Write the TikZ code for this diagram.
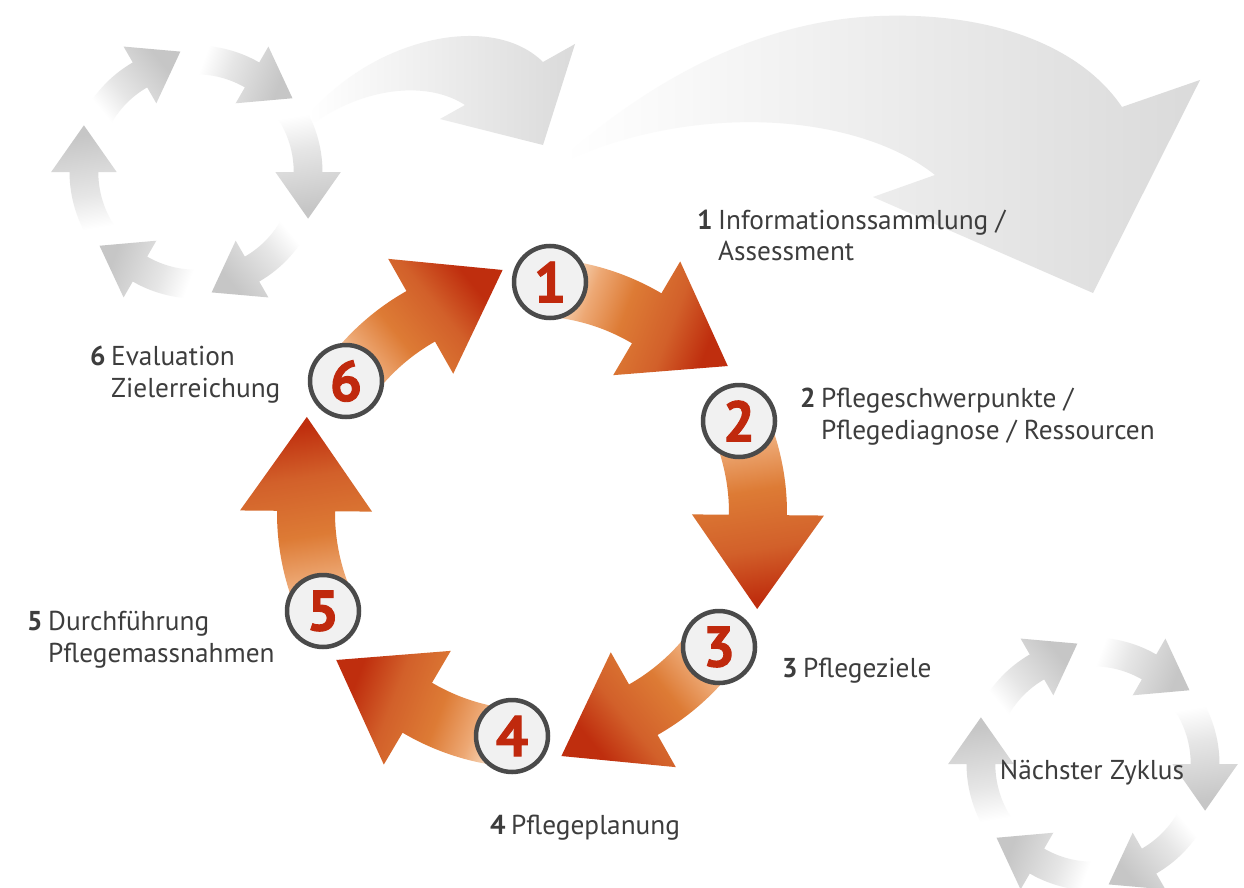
\documentclass[tikz,border=0pt]{standalone}
\usepackage{fontspec}
\setmainfont{PT Sans}
\newfontfamily\numfont{PT Sans}[BoldFeatures={FakeBold=1.6}]
\definecolor{opeach}{HTML}{F3C7A2}
\definecolor{olight}{HTML}{EDA874}
\definecolor{oorange}{HTML}{DD7B35}
\definecolor{odark}{HTML}{D2602A}
\definecolor{ored}{HTML}{BF2E0E}
\definecolor{gmid}{HTML}{E6E6E6}
\definecolor{ghead}{HTML}{C6C6C6}
\definecolor{swend}{HTML}{DADADA}
\definecolor{txt}{HTML}{3D3D3D}
\definecolor{numred}{HTML}{C0290D}
\definecolor{ring}{HTML}{4A4A4A}
\definecolor{disc}{HTML}{F1F1F1}
\pgfdeclarehorizontalshading{orangeshade}{100bp}{color(0bp)=(white); color(27bp)=(white); color(32bp)=(opeach); color(37bp)=(olight); color(48bp)=(oorange); color(62bp)=(odark); color(74bp)=(ored); color(100bp)=(ored)}
\pgfdeclarehorizontalshading{greyshade}{100bp}{color(0bp)=(white); color(30bp)=(white); color(45bp)=(gmid); color(72bp)=(ghead); color(100bp)=(ghead)}
\pgfdeclarehorizontalshading{swooshshade}{100bp}{color(0bp)=(white); color(25bp)=(white); color(75bp)=(swend); color(100bp)=(swend)}
\newcommand\cycarrow[3]{%
  \pgfmathsetmacro\arrA{#1+#3}%
  \pgfmathsetmacro\arrB{#1-26}%
  \pgfmathsetmacro\arrC{#1-48.6}%
  \pgfmathsetmacro\arrS{#1-106.5}%
  \shade[shading=#2, shading angle=\arrS] (\arrA:255) arc[start angle=\arrA, end angle=\arrB, radius=255]
    -- (\arrB:292) -- (\arrC:244.8) -- (\arrB:160) -- (\arrB:197)
    arc[start angle=\arrB, end angle=\arrA, radius=197] -- cycle;}
\tikzset{
  numcirc/.style={circle, draw=ring, line width=4.5pt, fill=disc, minimum size=72pt, inner sep=0pt,
    font=\fontsize{57}{57}\selectfont\numfont\bfseries, text=numred},
  lbl/.style={inner sep=0pt, anchor=base west, text=txt, font=\fontsize{27.3}{32}\selectfont},
}
\newcommand\numbox[1]{\makebox[21pt][l]{\bfseries #1}}
\begin{document}
\begin{tikzpicture}[x=1pt,y=1pt]
\useasboundingbox (0,0) rectangle (1244,-888);
\fill[white] (0,0) rectangle (1244,-888);
% big grey swooshes
\shade[shading=swooshshade] (308,-116) .. controls (370,-40) and (490,-10) .. (543,-62) -- (575,-44) -- (543,-145) -- (440,-119) -- (465,-105) .. controls (430,-82) and (370,-85) .. (315,-122) -- cycle;
\shade[shading=swooshshade] (563,-158) .. controls (650,-80) and (760,-20) .. (880,-16) .. controls (990,-12) and (1080,-45) .. (1122,-107) -- (1200,-80) -- (1093,-293) -- (873,-197) -- (935,-175) .. controls (860,-115) and (700,-100) .. (563,-162) -- cycle;
% small grey cycles
\begin{scope}[shift={(196,-172)},scale=0.496]
  \foreach \k in {0,...,5}{\pgfmathsetmacro\thk{86-60*\k}\cycarrow{\thk}{greyshade}{9}}
\end{scope}
\begin{scope}[shift={(1093,-764)},scale=0.496]
  \foreach \k in {0,...,5}{\pgfmathsetmacro\thk{86-60*\k}\cycarrow{\thk}{greyshade}{9}}
\end{scope}
% main cycle
\begin{scope}[shift={(532,-513)}]
  \foreach \k in {0,...,5}{\pgfmathsetmacro\thk{85.5-60*\k}\cycarrow{\thk}{orangeshade}{4}}
\end{scope}
\node[numcirc] (c1) at (550,-282) {1};
\node[numcirc] (c2) at (739,-421) {2};
\node[numcirc] (c3) at (719,-647) {3};
\node[numcirc] (c4) at (512,-736) {4};
\node[numcirc] (c5) at (323,-611) {5};
\node[numcirc] (c6) at (346,-381) {6};
% labels
\node[lbl] (l1a) at (697,-229.5) {\numbox{1}Informationssammlung /};
\node[lbl] (l1b) at (718,-260.5) {Assessment};
\node[lbl] (l2a) at (800,-407) {\numbox{2}Pflegeschwerpunkte /};
\node[lbl] (l2b) at (821,-439) {Pflegediagnose / Ressourcen};
\node[lbl] (l3) at (782,-677) {\numbox{3}Pflegeziele};
\node[lbl] (l4) at (490,-834) {\numbox{4}Pflegeplanung};
\node[lbl] (l5a) at (27,-630) {\numbox{5}Durchführung};
\node[lbl] (l5b) at (48,-662) {Pflegemassnahmen};
\node[lbl] (l6a) at (90,-365) {\numbox{6}Evaluation};
\node[lbl] (l6b) at (111,-397) {Zielerreichung};
\node[lbl, anchor=base] (nz) at (1092,-779) {Nächster Zyklus};
\end{tikzpicture}
\end{document}
